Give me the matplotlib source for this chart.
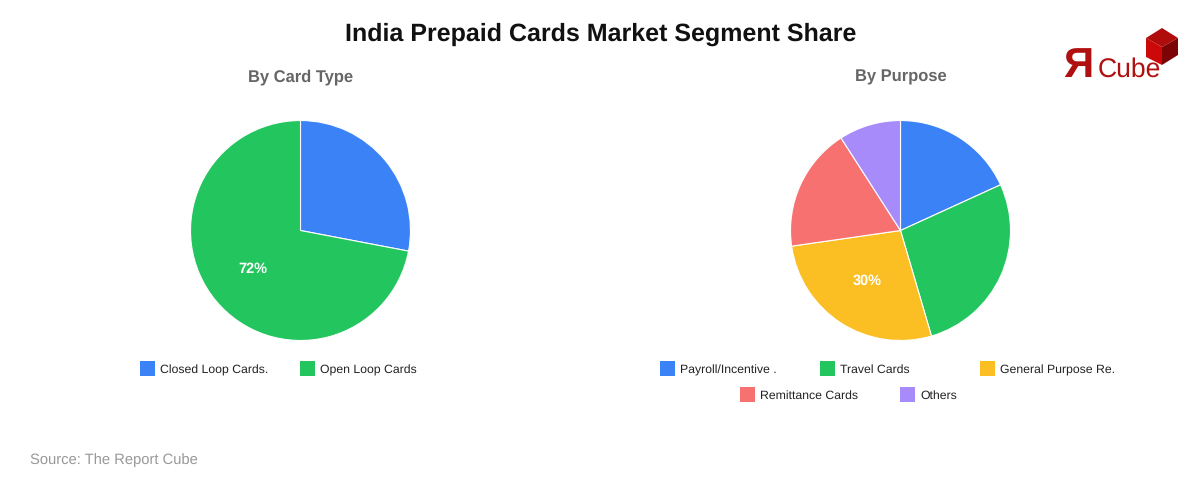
import matplotlib
matplotlib.use('Agg')
import matplotlib.pyplot as plt
from matplotlib.patches import Polygon, Rectangle

plt.rcParams['font.family'] = ['Liberation Sans', 'DejaVu Sans']
plt.rcParams['text.hinting'] = 'no_hinting'
plt.rcParams['text.hinting_factor'] = 8

# values
card_labels = ['Closed Loop Cards.', 'Open Loop Cards']
card_values = [28, 72]
card_shown = ['', '72%']
purpose_labels = ['Payroll/Incentive .', 'Travel Cards', 'General Purpose Re.', 'Remittance Cards', 'Others']
purpose_values = [20, 30, 30, 20, 10]
purpose_shown = ['', '', '30%', '', '']
colors = ['#3b82f6', '#22c55e', '#fbbf24', '#f87171', '#a78bfa']

H = 480
PX = 72 / 100  # px to pt


def y(p):
    return H - p


fig = plt.figure(figsize=(12, 4.8), dpi=100)
ax = fig.add_axes([0, 0, 1, 1])


def draw_pie(cx, cy, values, shown):
    wedges, _ = ax.pie(values, colors=colors, center=(cx, y(cy)), radius=110, startangle=90,
                       counterclock=False, wedgeprops={'edgecolor': 'white', 'linewidth': 0.8})
    for w, s in zip(wedges, shown):
        if s:
            # label sits 60px out along the middle of the slice
            w_mid = (w.theta1 + w.theta2) / 2
            r = matplotlib.transforms.Affine2D().rotate_deg(w_mid).transform_point((60, 0))
            ax.text(cx + r[0] - 1, y(cy) + r[1] - 4.2, s, color='white', fontsize=14.5 * PX, fontweight='bold',
                    ha='center', va='baseline')


def draw_legend(items, x_pos, y_pos, col_colors):
    for name, lx, ly, c in zip(items, x_pos, y_pos, col_colors):
        ax.add_patch(Rectangle((lx, y(ly + 15)), 15, 15, facecolor=c, edgecolor='none'))
        ax.text(lx + 20, y(ly + 12.2), name, fontsize=12.3 * PX, color='#222222', ha='left', va='baseline')


draw_pie(300.5, 230.5, card_values, card_shown)
draw_pie(900.5, 230.5, purpose_values, purpose_shown)

draw_legend(card_labels, [140, 300], [361, 361], colors)
draw_legend(purpose_labels, [660, 820, 980, 740, 900], [361, 361, 361, 387, 387], colors)

ax.text(600.5, y(40.6), 'India Prepaid Cards Market Segment Share', fontsize=25 * PX, fontweight='bold',
        color='#111111', ha='center', va='baseline')
ax.text(300.5, y(81.9), 'By Card Type', fontsize=16.5 * PX, fontweight='bold', color='#666666', ha='center', va='baseline')
ax.text(900.5, y(81.9), 'By Purpose', fontsize=16.5 * PX, fontweight='bold', color='#666666', ha='center', va='baseline')
ax.text(30, y(464.3), 'Source: The Report Cube', fontsize=14.7 * PX, color='#999999', ha='left', va='baseline')

# logo
ax.add_patch(Polygon([(1162, y(28)), (1178, y(38)), (1162, y(47)), (1146, y(38))], facecolor='#b00c0c', edgecolor='none'))
ax.add_patch(Polygon([(1146, y(38)), (1162, y(47)), (1162, y(65)), (1146, y(57))], facecolor='#cc0808', edgecolor='none'))
ax.add_patch(Polygon([(1178, y(38)), (1162, y(47)), (1162, y(65)), (1178, y(55))], facecolor='#7c0404', edgecolor='none'))
ax.text(1063, y(77), 'Я', fontsize=42 * PX, fontweight='bold', color='#b01010', ha='left', va='baseline')
ax.text(1097.5, y(77), 'Cube', fontsize=26.5 * PX, color='#b01010', ha='left', va='baseline')

ax.set_xlim(0, 1200)
ax.set_ylim(0, H)
ax.axis('off')

fig.savefig('out.png', dpi=100, facecolor='white')
